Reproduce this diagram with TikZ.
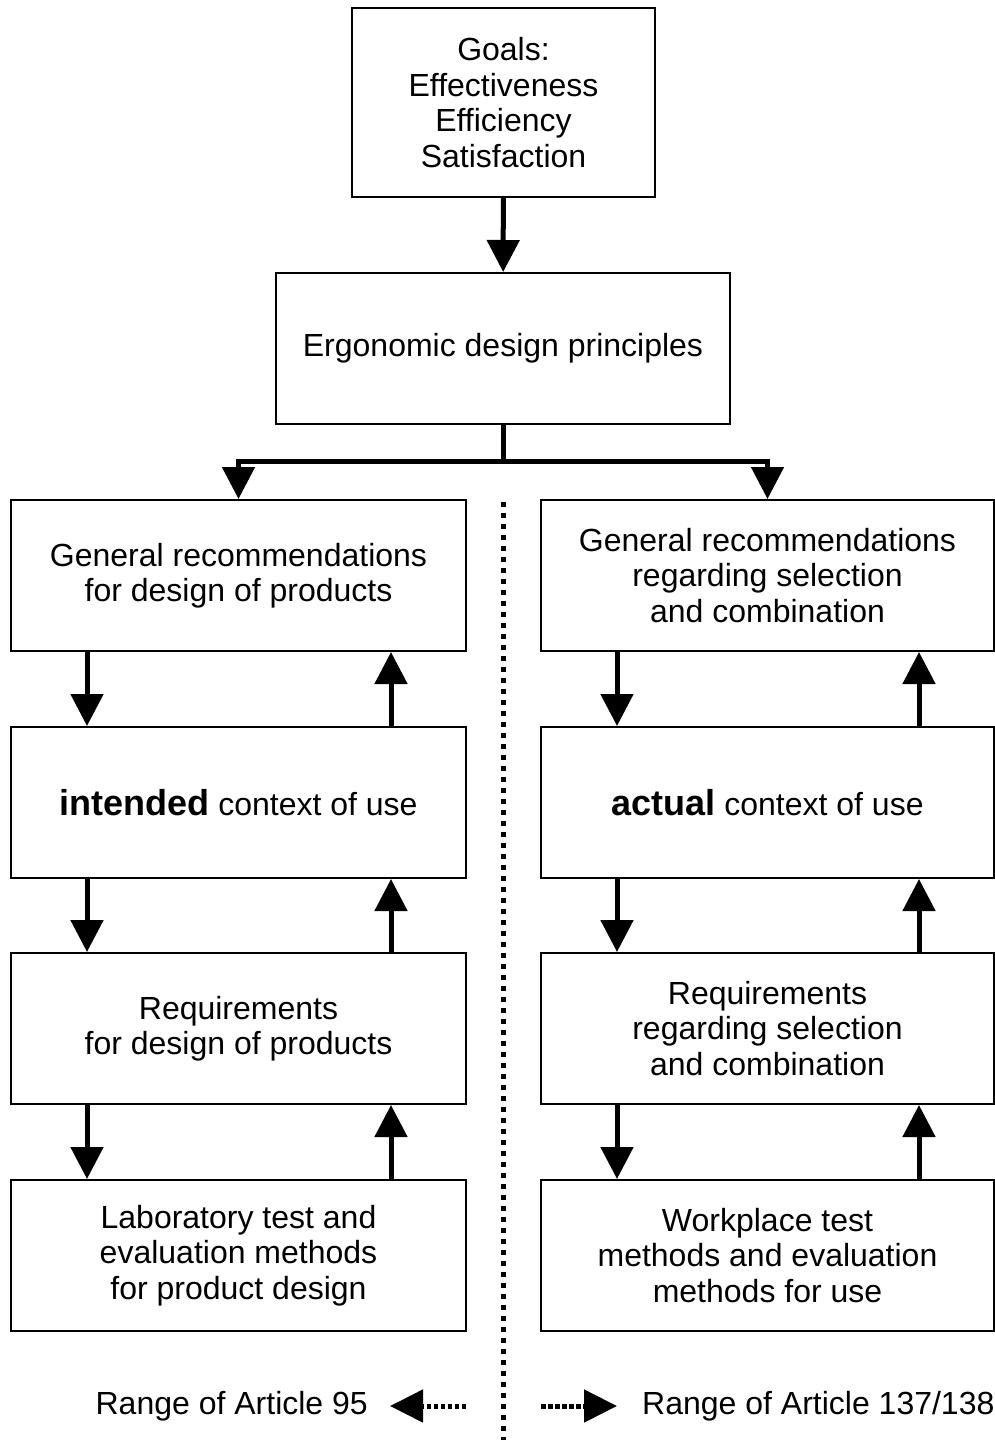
\documentclass[tikz,border=0pt]{standalone}
\usepackage{fontspec}
\setmainfont{Liberation Sans}
\usetikzlibrary{arrows.meta}
\usetikzlibrary{calc}

\newcommand{\bigbf}[1]{{\fontsize{36}{35.5}\selectfont\textbf{#1}}}

\tikzset{
  box/.style={draw, line width=2pt, align=center, inner sep=0pt,
    minimum width=455pt, minimum height=151pt},
  flow/.style={line width=5pt, -{Triangle[length=32pt,width=32pt]}},
  dotflow/.style={line width=5pt, dash pattern=on 4.5pt off 2.5pt,
    -{Triangle[length=33pt,width=32pt]}},
}

\begin{document}
\begin{tikzpicture}[x=1pt,y=-1pt,font=\fontsize{32}{35.5}\selectfont]
\useasboundingbox (0,0) rectangle (995,1440);
% top of the chart
\node[box, minimum width=303pt, minimum height=189pt] (goals) at (503.5,102.5)
  {Goals:\\Effectiveness\\Efficiency\\Satisfaction};
\node[box, minimum width=454pt] (ergo) at (503,348.5) {Ergonomic design principles};
\draw[flow] (goals) -- (ergo);
\coordinate (split) at (503,461);
% left column (products)
\node[box] (lrec) at (238.5,575.5) {General recommendations\\for design of products};
\node[box] (lctx) at (238.5,802.5) {\bigbf{intended} context of use};
\node[box] (lreq) at (238.5,1028.5) {Requirements\\for design of products};
\node[box] (ltest) at (238.5,1255.5) {Laboratory test and\\evaluation methods\\for product design};
% right column (use)
\node[box, minimum width=453pt] (rrec) at (767.5,575.5)
  {General recommendations\\regarding selection\\and combination};
\node[box, minimum width=453pt] (rctx) at (767.5,802.5) {\bigbf{actual} context of use};
\node[box, minimum width=453pt] (rreq) at (767.5,1028.5)
  {Requirements\\regarding selection\\and combination};
\node[box, minimum width=453pt] (rtest) at (767.5,1255.5)
  {Workplace test\\methods and evaluation\\methods for use};
% branching
\draw[line width=5pt] (ergo.south) -- (split);
\draw[flow] (split) -| (lrec.north);
\draw[flow] (split) -| (rrec.north);
% down and up arrows
\foreach \a/\b in {lrec/lctx, lctx/lreq, lreq/ltest, rrec/rctx, rctx/rreq, rreq/rtest}{
  \draw[flow] ([xshift=77pt]\a.south west) -- ([xshift=77pt]\b.north west);
  \draw[flow] ([xshift=-76pt]\b.north east) -- ([xshift=-76pt]\a.south east);
}
% dividing line
\coordinate (dtop) at (503,502);
\coordinate (dbot) at (503,1440);
\draw[line width=5pt, dash pattern=on 5pt off 6pt] (dtop) -- (dbot);
% ranges
\node[anchor=east, inner sep=0pt] (r95) at (368,1406) {Range of Article 95};
\node[anchor=west, inner sep=0pt] (r137) at (642,1406) {Range of Article 137/138};
\coordinate (ltail) at (466,1406);
\coordinate (rtail) at (541,1406);
\draw[dotflow] (ltail) -- ([xshift=22pt]r95.east);
\draw[dotflow] (rtail) -- ([xshift=-25pt]r137.west);
\end{tikzpicture}
\end{document}
